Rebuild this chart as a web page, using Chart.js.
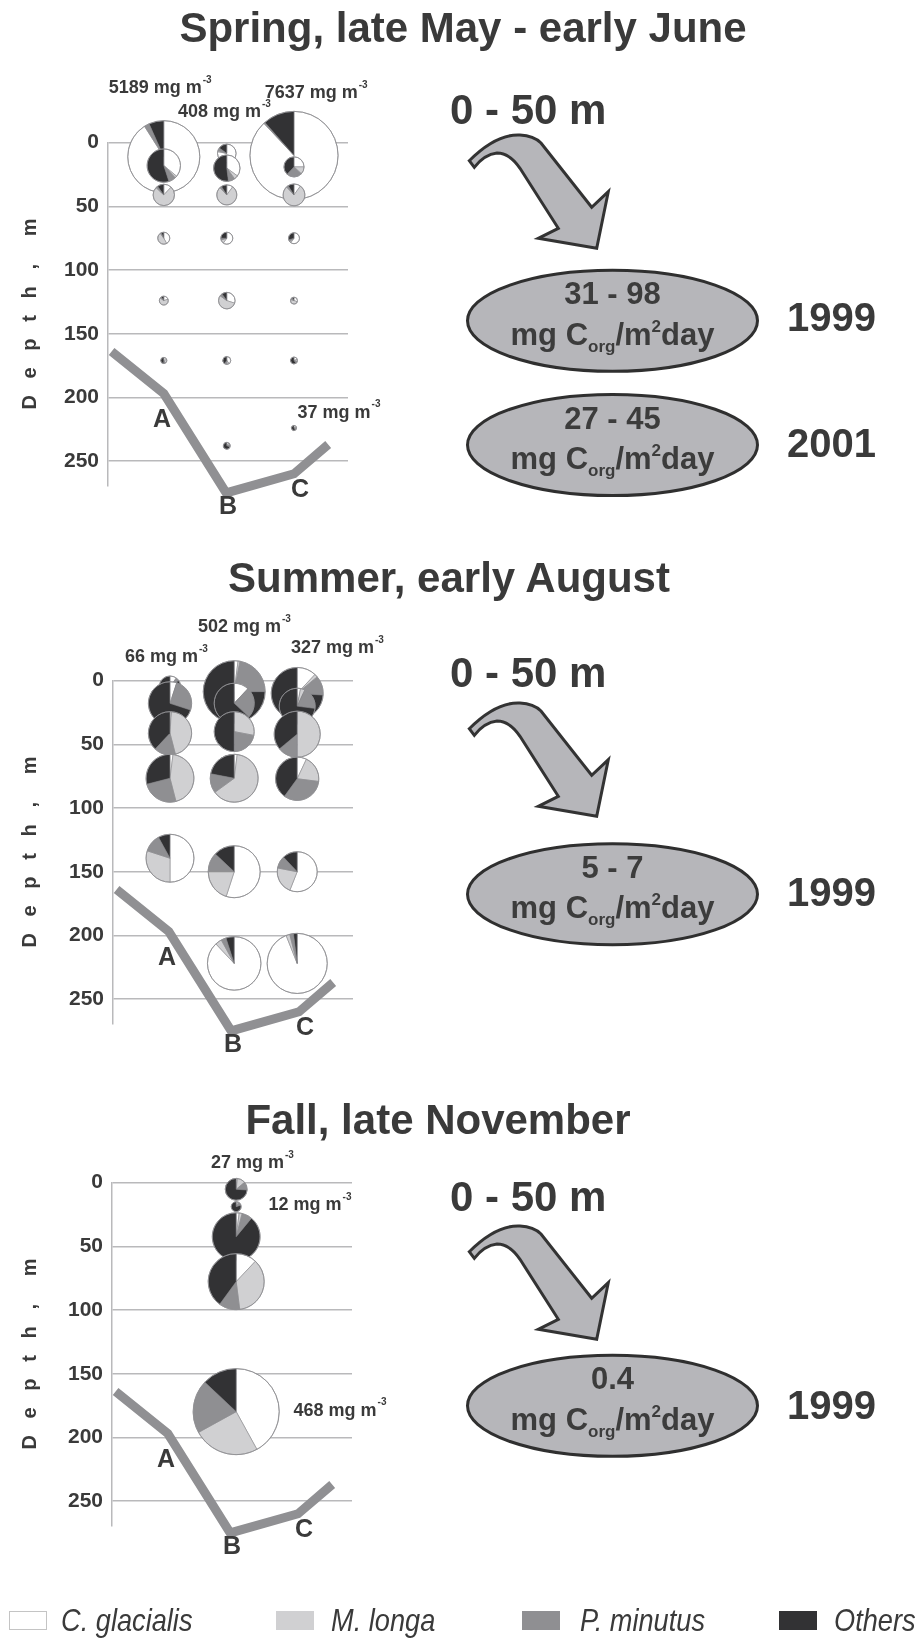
<!DOCTYPE html>
<html>
<head>
<meta charset="utf-8">
<script src="https://cdn.jsdelivr.net/npm/chart.js@4.4.0/dist/chart.umd.min.js"></script>
<style>
  body { margin: 0; background: #fff; }
  #page { position: relative; width: 918px; height: 1638px; overflow: hidden;
          font-family: "Liberation Sans", Arial, Helvetica, sans-serif; color: #3a3a3a; }
  .abs { position: absolute; white-space: nowrap; line-height: 1; }
  .ctr { transform: translate(-50%, -50%); }
  .vmid { transform: translate(0, -50%); }
  .title { font-weight: bold; font-size: 42px; }
  .layer { font-weight: bold; font-size: 42px; }
  .year { font-weight: bold; font-size: 40px; }
  .flux { font-weight: bold; font-size: 31px; color: #3c3c3c; }
  .flux .sub { font-size: 17px; position: relative; top: 7px; }
  .flux .sup { font-size: 17px; position: relative; top: -13px; }
  canvas { position: absolute; }
  svg { position: absolute; left: 0; top: 0; }
  .sw { position: absolute; width: 38px; height: 19px; box-sizing: border-box; border: 1px solid #c4c4c4; }
  .lg { font-size: 32px; font-style: italic; transform-origin: left center; }
</style>
</head>
<body>
<div id="page">
  <canvas id="spring" width="420" height="480"></canvas>
  <canvas id="summer" width="420" height="480"></canvas>
  <canvas id="fall" width="420" height="440"></canvas>
  <svg id="deco" width="918" height="1638"></svg>
</div>
<script>
// ---- data ----
const speciesNames = ['C. glacialis', 'M. longa', 'P. minutus', 'Others'];
const stationNames = ['A', 'B', 'C'];
const stationX = [0.9, 2.0, 3.2];
const stationLabelDepth = [218, 286, 273];

// bottom profile along the transect
const profileX = [0.06, 0.93, 1.97, 3.1, 3.67];
const profileDepth = [164, 197, 275, 260, 237];

// Spring: pie centres (distance, depth), pie radius in m of depth, species shares
const springX     = [0.93,0.93,0.93,0.93,0.93,0.93, 1.98,1.98,1.98,1.98,1.98,1.98,1.98, 3.1,3.1,3.1,3.1,3.1,3.1,3.1];
const springDepth = [11, 18, 41, 75, 124, 171,   8.4, 20, 41, 75, 124, 171, 238,   10, 19, 41, 75, 124, 171, 224];
const springSize  = [28.3, 13.1, 8.4, 4.7, 3.5, 2.4,   7.3, 10.4, 7.9, 4.7, 6.5, 3.1, 2.7,   34.6, 7.9, 8.6, 4.3, 2.7, 2.7, 2.0];
const springCg    = [0.91, 0.36, 0.12, 0.42, 0.2, 0.2,   0.78, 0.35, 0.1, 0.6, 0.3, 0.4, 0.1,   0.88, 0.25, 0.1, 0.6, 0.3, 0.2, 0.2];
const springMl    = [0, 0.02, 0.75, 0.48, 0.65, 0.2,     0.02, 0.05, 0.78, 0.1, 0.55, 0.1, 0.1,   0, 0.12, 0.78, 0.05, 0.5, 0.1, 0.1];
const springPm    = [0.023, 0.07, 0.03, 0.03, 0.05, 0.1, 0.05, 0.08, 0.03, 0.05, 0.05, 0.1, 0.1,  0.005, 0.25, 0.03, 0.05, 0.1, 0.1, 0.1];
const springOth   = [0.067, 0.55, 0.1, 0.07, 0.1, 0.5,   0.15, 0.52, 0.09, 0.25, 0.1, 0.4, 0.7,   0.115, 0.38, 0.09, 0.3, 0.1, 0.6, 0.6];
const springLabels = ['5189', '408', '7637', '37'];
const springLabelX = [0.87, 1.94, 3.47, 3.85];
const springLabelDepth = [-43, -24, -39, 212];

// Summer
const summerX     = [0.95,0.95,0.95,0.95,0.95, 2.02,2.02,2.02,2.02,2.02,2.02, 3.07,3.07,3.07,3.07,3.07,3.07];
const summerDepth = [4.7, 17.8, 41.3, 76.6, 139.4,   8.6, 17.7, 40, 76.6, 150, 222,   10, 20, 42, 77, 150, 222];
const summerSize  = [8.4, 17, 17, 18.8, 18.8,   24.3, 15.7, 15.7, 18.8, 20.4, 21,   20.4, 14.1, 18.1, 17, 15.7, 23.6];
const summerCg    = [0.1, 0.05, 0.01, 0.02, 0.5,    0.02, 0.12, 0, 0.02, 0.55, 0.88,   0.12, 0.03, 0, 0.07, 0.56, 0.94];
const summerMl    = [0, 0, 0.45, 0.44, 0.3,         0.01, 0, 0.28, 0.63, 0.2, 0.04,    0.02, 0.04, 0.5, 0.2, 0.22, 0.02];
const summerPm    = [0.05, 0.25, 0.16, 0.25, 0.12,  0.22, 0.25, 0.22, 0.13, 0.12, 0.03, 0.12, 0.2, 0.14, 0.33, 0.1, 0.02];
const summerOth   = [0.85, 0.7, 0.38, 0.29, 0.08,   0.75, 0.63, 0.5, 0.22, 0.13, 0.05, 0.74, 0.73, 0.36, 0.4, 0.12, 0.02];
const summerLabels = ['502', '66', '327'];
const summerLabelX = [2.19, 0.89, 3.74];
const summerLabelDepth = [-42, -18.6, -25.7];

// Fall
const fallX     = [2.07, 2.07, 2.07, 2.07, 2.07];
const fallDepth = [5.2, 18.8, 42.4, 77.7, 179.8];
const fallSize  = [8.6, 3.9, 18.8, 22, 33.8];
const fallCg    = [0.02, 0.05, 0.02, 0.12, 0.42];
const fallMl    = [0.12, 0.05, 0.02, 0.36, 0.25];
const fallPm    = [0.12, 0.1, 0.07, 0.12, 0.2];
const fallOth   = [0.74, 0.8, 0.89, 0.4, 0.13];
const fallLabels = ['27', '12', '468'];
const fallLabelX = [2.34, 3.3, 3.8];
const fallLabelDepth = [-15.5, 17.5, 179];

// export flux of organic carbon, 0-50 m
const fluxRange = ['31 - 98', '27 - 45', '5 - 7', '0.4'];
const fluxYear  = ['1999', '2001', '1999', '1999'];

const seasonTitles = ['Spring, late May - early June', 'Summer, early August', 'Fall, late November'];

// ---- styling ----
const FONT = '"Liberation Sans", Arial, Helvetica, sans-serif';
const TEXT = '#3a3a3a';
const GRID = '#b9b9bb';
const pieColors = ['#ffffff', '#d0d0d2', '#8f8f92', '#323234'];
const PX_PER_M = 1.2735;
const DEPTH_MAX = 269;

const page = document.getElementById('page');
function addText(cls, html, x, y, extra) {
  const d = document.createElement('div');
  d.className = 'abs ' + cls;
  d.innerHTML = html;
  d.style.left = x + 'px';
  d.style.top = y + 'px';
  if (extra) Object.assign(d.style, extra);
  page.appendChild(d);
  return d;
}

// pies, concentration labels and station letters on top of the chart
const piePlugin = {
  id: 'pies',
  afterDatasetsDraw(chart, args, opts) {
    const { ctx, scales: { x, y } } = chart;
    const p = opts.panel;
    ctx.save();
    for (let i = 0; i < p.x.length; i++) {
      const cx = x.getPixelForValue(p.x[i]);
      const cy = y.getPixelForValue(p.depth[i]);
      const r = Math.abs(y.getPixelForValue(p.depth[i] + p.size[i]) - cy);
      const parts = [p.cg[i], p.ml[i], p.pm[i], p.oth[i]];
      const total = parts.reduce((a, b) => a + b, 0);
      let a = -Math.PI / 2;
      parts.forEach((v, k) => {
        if (v <= 0) return;
        const a1 = a + v / total * Math.PI * 2;
        ctx.beginPath();
        ctx.moveTo(cx, cy);
        ctx.arc(cx, cy, r, a, a1);
        ctx.closePath();
        ctx.fillStyle = pieColors[k];
        ctx.fill();
        ctx.strokeStyle = '#8a8a8d';
        ctx.lineWidth = 0.6;
        ctx.stroke();
        a = a1;
      });
      ctx.beginPath();
      ctx.arc(cx, cy, r, 0, Math.PI * 2);
      ctx.strokeStyle = '#909093';
      ctx.lineWidth = 0.9;
      ctx.stroke();
    }

    // concentration labels "xxx mg m-3"
    ctx.fillStyle = TEXT;
    ctx.textBaseline = 'middle';
    ctx.textAlign = 'left';
    for (let i = 0; i < p.labels.length; i++) {
      const main = p.labels[i] + ' mg m';
      ctx.font = 'bold 18px ' + FONT;
      const w1 = ctx.measureText(main).width;
      ctx.font = 'bold 10px ' + FONT;
      const w2 = ctx.measureText('-3').width;
      const cx = x.getPixelForValue(p.labelX[i]);
      const cy = y.getPixelForValue(p.labelDepth[i]);
      const x0 = cx - (w1 + w2 + 1) / 2;
      ctx.font = 'bold 18px ' + FONT;
      ctx.fillText(main, x0, cy);
      ctx.font = 'bold 10px ' + FONT;
      ctx.fillText('-3', x0 + w1 + 1, cy - 8);
    }

    // station letters
    ctx.font = 'bold 25px ' + FONT;
    ctx.textAlign = 'center';
    stationNames.forEach((s, i) => {
      ctx.fillText(s, x.getPixelForValue(stationX[i]), y.getPixelForValue(stationLabelDepth[i]));
    });
    ctx.restore();
  }
};

function makePanel(id, left, top, zeroY, panel) {
  const canvas = document.getElementById(id);
  canvas.style.left = left + 'px';
  canvas.style.top = top + 'px';
  const padTop = zeroY - top;
  const padBottom = canvas.height - padTop - DEPTH_MAX * PX_PER_M;
  return new Chart(canvas, {
    type: 'line',
    data: {
      datasets: [{
        data: profileX.map((v, i) => ({ x: v, y: profileDepth[i] })),
        borderColor: '#909093',
        borderWidth: 9,
        pointRadius: 0,
        fill: false,
        clip: false
      }]
    },
    options: {
      responsive: false,
      animation: false,
      layout: { padding: { top: padTop, bottom: padBottom, left: 0, right: 70 } },
      plugins: {
        legend: { display: false },
        tooltip: { enabled: false },
        pies: { panel }
      },
      scales: {
        x: { type: 'linear', display: false, min: 0, max: 4 },
        y: {
          type: 'linear',
          reverse: true,
          min: 0,
          max: DEPTH_MAX,
          afterFit: s => { s.width = 110; },
          ticks: { stepSize: 50, includeBounds: false, padding: 9, color: TEXT,
                   font: { family: FONT, size: 21, weight: 'bold' } },
          grid: { color: GRID, lineWidth: 1.5, drawTicks: false },
          border: { color: GRID, width: 1.5 },
          title: {
            display: true,
            text: 'D   e   p   t   h   ,     m',
            color: TEXT,
            font: { family: FONT, size: 20, weight: 'bold' },
            padding: { top: 30 - left - 12, bottom: 0 }
          }
        }
      }
    },
    plugins: [piePlugin]
  });
}

makePanel('spring', -2, 60, 142.7, {
  x: springX, depth: springDepth, size: springSize,
  cg: springCg, ml: springMl, pm: springPm, oth: springOth,
  labels: springLabels, labelX: springLabelX, labelDepth: springLabelDepth
});
makePanel('summer', 3, 600, 680.7, {
  x: summerX, depth: summerDepth, size: summerSize,
  cg: summerCg, ml: summerMl, pm: summerPm, oth: summerOth,
  labels: summerLabels, labelX: summerLabelX, labelDepth: summerLabelDepth
});
makePanel('fall', 2, 1140, 1182.7, {
  x: fallX, depth: fallDepth, size: fallSize,
  cg: fallCg, ml: fallMl, pm: fallPm, oth: fallOth,
  labels: fallLabels, labelX: fallLabelX, labelDepth: fallLabelDepth
});

// ---- titles and right-hand annotations ----
const titlePos = [[463, 28], [449, 578], [438, 1120]];
seasonTitles.forEach((t, i) => addText('title ctr', t, titlePos[i][0], titlePos[i][1]));

const layerY = [110, 673, 1197];
const arrowDy = [0, 568, 1091];
const svg = document.getElementById('deco');
const arrowPath = 'M469.3,160.7 C482,148 500,134 520,135 C530,135.5 536,138 541,143 L591.7,207.3 ' +
  'L608.3,191.7 L596.7,248.3 L538.3,238.3 L558.3,228.3 L520,168.3 C513,158 506,153 497,153 ' +
  'C488,154 480,160 474.3,167.3 Z';
let svgHtml = '';
layerY.forEach((ly, i) => {
  addText('layer vmid', '0 - 50 m', 450, ly);
  svgHtml += `<path d="${arrowPath}" transform="translate(0,${arrowDy[i]})" fill="#b6b6ba" stroke="#333" stroke-width="3" stroke-linejoin="miter"/>`;
});

const fluxY = [320.8, 445, 894.2, 1405.8];
const yearY = [317, 443, 891.7, 1405];
fluxRange.forEach((v, i) => {
  svgHtml += `<ellipse cx="612.5" cy="${fluxY[i]}" rx="145" ry="50.5" fill="#b6b6ba" stroke="#2f2f2f" stroke-width="3"/>`;
  addText('flux ctr', v, 612.5, fluxY[i] - 27.5);
  addText('flux ctr', 'mg C<span class="sub">org</span>/m<span class="sup">2</span>day', 612.5, fluxY[i] + 13);
  addText('year vmid', fluxYear[i], 787, yearY[i]);
});
svg.innerHTML = svgHtml;

// ---- legend ----
const legendSwatchX = [9, 276, 522, 779];
const legendTextX = [61, 331, 580, 834];
speciesNames.forEach((n, i) => {
  const sw = document.createElement('div');
  sw.className = 'sw';
  sw.style.left = legendSwatchX[i] + 'px';
  sw.style.top = '1611px';
  sw.style.background = pieColors[i];
  if (i > 0) sw.style.borderColor = pieColors[i];
  page.appendChild(sw);
  addText('lg', n, legendTextX[i], 1620, { transform: 'translate(0,-50%) scaleX(0.85)' });
});
</script>
</body>
</html>
